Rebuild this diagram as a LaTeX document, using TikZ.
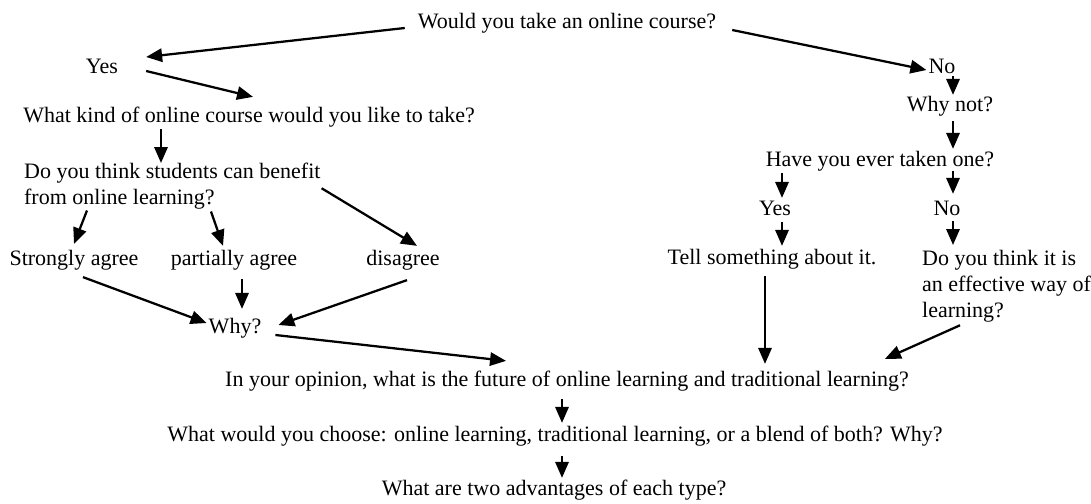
\documentclass[tikz,border=0pt]{standalone}
\usepackage{fontspec}
\setmainfont{Liberation Serif}
\usetikzlibrary{arrows.meta}

\tikzset{every picture/.style={line width=1.7pt}}
\tikzset{
  txt/.style={inner sep=0.75pt, font=\fontsize{16.5pt}{19.5pt}\selectfont, text height=11.25pt, text depth=3.75pt},
  txtblock/.style={inner sep=0.75pt, font=\fontsize{16.5pt}{19.5pt}\selectfont, align=left, anchor=north west},
  arr/.style={-{Triangle[length=12pt,width=10pt]}}
}

\begin{document}
\begin{tikzpicture}[x=0.75pt,y=0.75pt,yscale=-1,xscale=1]
\path[use as bounding box] (0,0) rectangle (1091,503);

% Text Node
\node [txt] (q1) at (567,24) {Would you take an online course?};
% Text Node
\node [txt] (yes1) at (102,69) {Yes};
% Text Node
\node [txt] (no1) at (942,69) {No};
% Text Node
\node [txt] (q2) at (249,117) {What kind of online course would you like to take?};
% Text Node
\node [txtblock] (q3) at (22,161) {Do you think students can benefit\\from online learning?};
% Text Node
\node [txt] (sa) at (74,260) {Strongly agree};
% Text Node
\node [txt] (pa) at (234,260) {partially agree};
% Text Node
\node [txt] (dis) at (403,260) {disagree};
% Text Node
\node [txt] (why) at (235,328) {Why?};
% Text Node
\node [txt] (whynot) at (950,106) {Why not?};
% Text Node
\node [txt] (have) at (880,161) {Have you ever taken one?};
% Text Node
\node [txt] (yes2) at (775,210) {Yes};
% Text Node
\node [txt] (no2) at (947,210) {No};
% Text Node
\node [txt] (tell) at (772,259) {Tell something about it.};
% Text Node
\node [txtblock] (eff) at (920,248) {Do you think it is\\an effective way of\\learning?};
% Text Node
\node [txt] (q4) at (567,381) {In your opinion, what is the future of online learning and traditional learning?};
% Text Node
\node [txt] (q5) at (555,436) {What would you choose: online learning, traditional learning, or a blend of both? Why?};
% Text Node
\node [txt] (q6) at (554,490) {What are two advantages of each type?};

%Straight Lines
\draw [arr] ([shift={(-11,4)}]q1.west) -- ([shift={(26,-12)}]yes1.east);
\draw [arr] ([shift={(26,2)}]yes1.east) -- ([shift={(4,-8)}]q2.north);
\draw [arr] ([shift={(14,6)}]q1.east) -- ([shift={(0,1)}]no1.west);
%Straight Lines
\draw [arr] ([shift={(-88,0)}]q2.south) -- ([shift={(139,2)}]q3.north west);
\draw [arr] ([shift={(65,-1)}]q3.south west) -- ([shift={(0,-4)}]sa.north);
\draw [arr] ([shift={(189,0)}]q3.south west) -- ([shift={(-11,-2)}]pa.north);
\draw [arr] ([shift={(-1,2)}]q3.east) -- ([shift={(14,-2)}]dis.north);
%Straight Lines
\draw [arr] ([shift={(9,5)}]sa.south) -- ([shift={(0,-5)}]why.west);
\draw [arr] ([shift={(8,7)}]pa.south) -- ([shift={(7,-7)}]why.north);
\draw [arr] ([shift={(4,8)}]dis.south) -- ([shift={(15,-3)}]why.east);
\draw [arr] ([shift={(12,7)}]why.east) -- ([shift={(283,-8)}]q4.north west);
%Straight Lines
\draw [arr] ([shift={(11,-5)}]no1.south) -- ([shift={(3,1)}]whynot.north);
\draw [arr] ([shift={(3,3)}]whynot.south) -- ([shift={(73,0)}]have.north);
\draw [arr] ([shift={(-98,0)}]have.south) -- ([shift={(7,0)}]yes2.north);
\draw [arr] ([shift={(73,-2)}]have.south) -- ([shift={(6,-4)}]no2.north);
\draw [arr] ([shift={(7,0)}]yes2.south) -- ([shift={(10,-1)}]tell.north);
\draw [arr] ([shift={(6,-1)}]no2.south) -- ([shift={(33,-3)}]eff.north west);
%Straight Lines
\draw [arr] ([shift={(-7,5)}]tell.south) -- ([shift={(198,-5)}]q4.north);
\draw [arr] ([shift={(40,1)}]eff.south west) -- ([shift={(-26,-10)}]q4.north east);
\draw [arr] ([shift={(-5,6)}]q4.south) -- ([shift={(7,-1)}]q5.north);
\draw [arr] ([shift={(7,8)}]q5.south) -- ([shift={(8,0)}]q6.north);

\end{tikzpicture}
\end{document}
